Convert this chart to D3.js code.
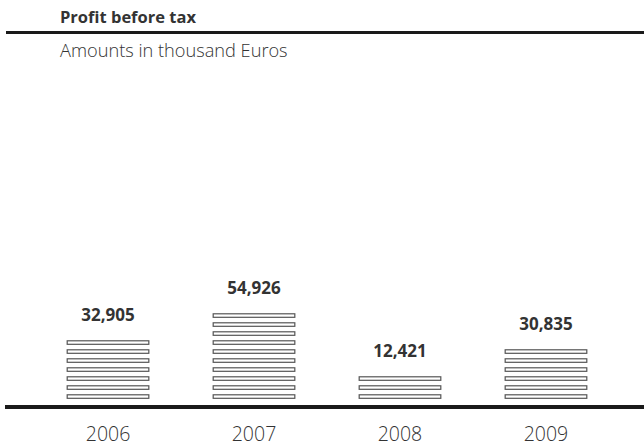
<!DOCTYPE html>
<html>
  <head>
    <title>Profit before tax</title>
    <script src="https://d3js.org/d3.v7.min.js"></script>
    <style>
      body { margin: 0; background: #fff; }
      text { font-family: "Open Sans", sans-serif; fill: #333; }
      .title { font-weight: bold; font-size: 16.5px; }
      .subtitle { font-size: 18.2px; font-weight: 300; }
      .value { font-weight: bold; font-size: 17px; }
      .axis .tick text { font-size: 19.5px; font-weight: 300; fill: #333; }
      .axis .tick line, .axis .domain { display: none; }
      .stripe { fill: #fff; stroke: #555; stroke-width: 1.2px; }
    </style>
  </head>
  <body>
    <svg width="644" height="448"></svg>
    <script>
      const years = ["2006", "2007", "2008", "2009"];
      const values = [32905, 54926, 12421, 30835];
      const valueLabels = ["32,905", "54,926", "12,421", "30,835"];
      const stripeCounts = [7, 10, 3, 6];

      const svg = d3.select("svg");
      const width = +svg.attr("width");
      const baseY = 405;
      const pitch = 9;

      const xScale = d3.scaleBand()
        .domain(years)
        .range([37.5, 616.5])
        .paddingInner(0.434)
        .paddingOuter(0.2);

      // stripe index -> y of stripe top
      const yScale = d3.scaleLinear()
        .domain([0, 1])
        .range([baseY - 10.7, baseY - 10.7 - pitch]);

      // header
      svg.append("text")
        .attr("class", "title")
        .attr("x", 60).attr("y", 23)
        .text("Profit before tax");
      svg.append("rect")
        .attr("x", 6).attr("y", 31)
        .attr("width", width - 6).attr("height", 3)
        .attr("fill", "#1a1a1a");
      svg.append("text")
        .attr("class", "subtitle")
        .attr("x", 60).attr("y", 57)
        .text("Amounts in thousand Euros");

      const data = years.map((y, i) => ({
        year: y, value: values[i], label: valueLabels[i], n: stripeCounts[i]
      }));

      const bars = svg.selectAll("g.bar").data(data)
        .enter().append("g")
          .attr("class", "bar")
          .attr("transform", d => `translate(${xScale(d.year)}, 0)`);

      bars.selectAll("rect")
        .data(d => d3.range(d.n))
        .enter().append("rect")
          .attr("class", "stripe")
          .attr("x", 0.5)
          .attr("y", i => yScale(i) + 0.5)
          .attr("width", xScale.bandwidth() - 1)
          .attr("height", 3.5);

      bars.append("text")
        .attr("class", "value")
        .attr("text-anchor", "middle")
        .attr("x", xScale.bandwidth() / 2)
        .attr("y", d => yScale(d.n - 1) - 19)
        .text(d => d.label);

      // baseline
      svg.append("rect")
        .attr("x", 5).attr("y", baseY)
        .attr("width", width - 5).attr("height", 4)
        .attr("fill", "#1a1a1a");

      const xAxis = d3.axisBottom(xScale).tickSize(0).tickPadding(0);
      svg.append("g")
        .attr("class", "axis")
        .attr("transform", "translate(0, 441)")
        .call(xAxis)
        .selectAll("text")
          .attr("y", 0)
          .attr("dy", 0)
          .attr("font-family", null);
    </script>
  </body>
</html>
